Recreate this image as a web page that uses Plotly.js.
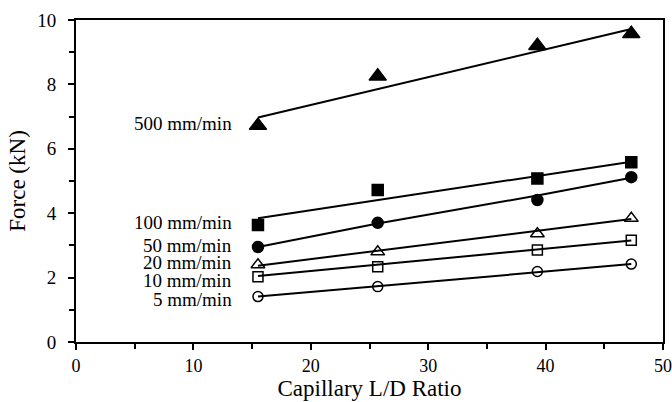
<!DOCTYPE html>
<html><head><meta charset="utf-8">
<script src="https://cdn.plot.ly/plotly-3.0.1.min.js"></script>
<style>html,body{margin:0;padding:0;background:#fff}#chart{width:672px;height:402px}</style>
</head><body><div id="chart"></div>
<script>
// Data
const ldRatio = [15.5, 25.7, 39.3, 47.3];
const rateLabels = ["500 mm/min", "100 mm/min", "50 mm/min", "20 mm/min", "10 mm/min", "5 mm/min"];
const force500 = [6.72, 8.25, 9.2, 9.57];
const force100 = [3.63, 4.72, 5.08, 5.58];
const force50  = [2.95, 3.7, 4.41, 5.12];
const force20  = [2.4, 2.8, 3.36, 3.84];
const force10  = [2.03, 2.34, 2.86, 3.16];
const force5   = [1.41, 1.72, 2.19, 2.42];
// trend lines as drawn in the reference
const lineX500 = [15.5, 47.3], line500 = [6.97, 9.72];
const lineX100 = [15.5, 47.3], line100 = [3.84, 5.6];
const lineX50  = [15.5, 25.7, 39.3, 47.3], line50 = [2.95, 3.68, 4.55, 5.1];
const lineX20  = [15.5, 47.3], line20 = [2.37, 3.82];
const lineX10  = [15.5, 47.3], line10 = [2.05, 3.15];
const lineX5   = [15.5, 47.3], line5  = [1.41, 2.42];
// label anchor y positions
const labelY = [6.78, 3.7, 3.0, 2.47, 1.9, 1.33];

const series = [
  {y: force500, lx: lineX500, ly: line500, sym: 'triangle-up', size: 15},
  {y: force100, lx: lineX100, ly: line100, sym: 'square', size: 11},
  {y: force50,  lx: lineX50,  ly: line50,  sym: 'circle', size: 11},
  {y: force20,  lx: lineX20,  ly: line20,  sym: 'triangle-up-open', size: 12},
  {y: force10,  lx: lineX10,  ly: line10,  sym: 'square-open', size: 10},
  {y: force5,   lx: lineX5,   ly: line5,   sym: 'circle-open', size: 10}
];
const traces = [];
series.forEach(s => {
  traces.push({x: s.lx, y: s.ly, mode: 'lines', line: {color: '#000', width: 2}, hoverinfo: 'skip', showlegend: false});
  traces.push({x: ldRatio, y: s.y, mode: 'markers', showlegend: false,
    marker: {symbol: s.sym, size: s.size, color: '#000', line: {color: '#000', width: 1.5}}});
});
const fam = '"Liberation Serif", "Times New Roman", serif';
const annotations = rateLabels.map((t, i) => ({
  x: 13.5, y: labelY[i], xref: 'x', yref: 'y', text: t, showarrow: false,
  xanchor: 'right', yanchor: 'middle', font: {family: fam, size: 19, color: '#000'}
}));
const layout = {
  width: 672, height: 402,
  margin: {l: 76, r: 9, t: 20, b: 60},
  paper_bgcolor: '#fff', plot_bgcolor: '#fff',
  font: {family: fam, color: '#000'},
  annotations: annotations,
  xaxis: {
    range: [0, 50], dtick: 10, tick0: 0, showgrid: false, zeroline: false,
    showline: true, linecolor: '#000', linewidth: 2, mirror: true,
    ticks: 'outside', ticklen: 6, tickwidth: 2, tickcolor: '#000', ticklabelstandoff: 0,
    minor: {dtick: 5, ticks: 'outside', ticklen: 5, tickwidth: 2, tickcolor: '#000', showgrid: false},
    tickfont: {family: fam, size: 18, color: '#000'},
    title: {text: 'Capillary L/D Ratio', font: {family: fam, size: 23, color: '#000'}, standoff: 1}
  },
  yaxis: {
    range: [0, 10], dtick: 2, tick0: 0, showgrid: false, zeroline: false,
    showline: true, linecolor: '#000', linewidth: 2, mirror: true,
    ticks: 'outside', ticklen: 6, tickwidth: 2, tickcolor: '#000', ticklabelstandoff: 8,
    minor: {dtick: 1, ticks: 'outside', ticklen: 5, tickwidth: 2, tickcolor: '#000', showgrid: false},
    tickfont: {family: fam, size: 19, color: '#000'},
    title: {text: 'Force (kN)', font: {family: fam, size: 23, color: '#000'}, standoff: 5}
  }
};
Plotly.newPlot('chart', traces, layout, {staticPlot: true, displayModeBar: false});
</script></body></html>
